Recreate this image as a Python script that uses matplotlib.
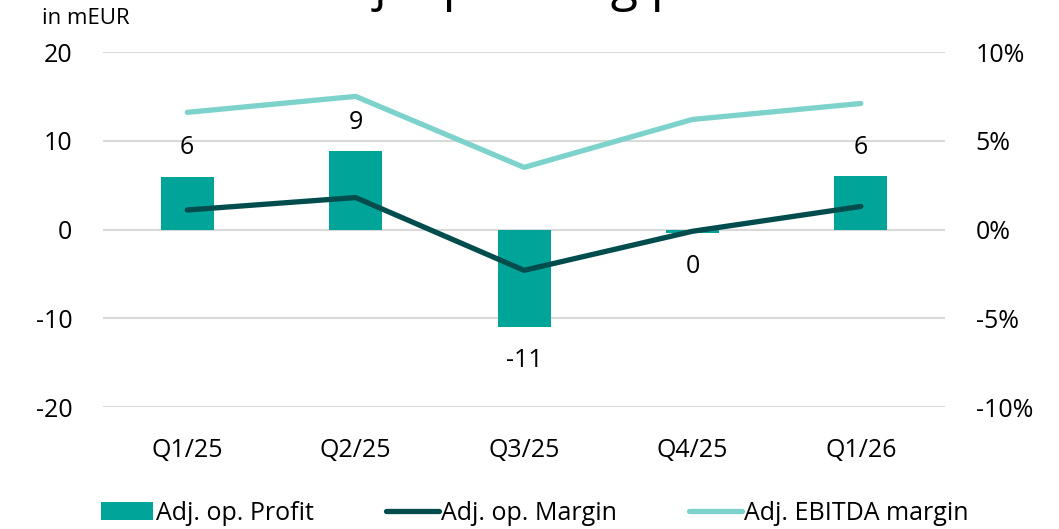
import matplotlib

matplotlib.use("Agg")
import matplotlib.pyplot as plt
import numpy as np

quarters = ["Q1/25", "Q2/25", "Q3/25", "Q4/25", "Q1/26"]
op_profit = [5.9, 8.8, -11.0, -0.4, 6.0]  # mEUR
op_margin = [1.1, 1.8, -2.3, -0.1, 1.3]  # %
ebitda_margin = [6.6, 7.5, 3.5, 6.2, 7.1]  # %
profit_labels = ["6", "9", "-11", "0", "6"]

BAR = "#00A499"
DARK = "#014D4E"
LIGHT = "#7DD3CB"
GRID = "#D9D9D9"
FS = 18

plt.rcParams["font.family"] = ["Open Sans", "DejaVu Sans"]
plt.rcParams["axes.unicode_minus"] = False

fig = plt.figure(figsize=(10.59, 5.29), dpi=100)
ax = fig.add_axes([0.0973, 0.2306, 0.7951, 0.6711])
ax2 = ax.twinx()

x = np.arange(len(quarters))
ax.bar(x, op_profit, width=0.315, color=BAR, zorder=2, label="Adj. op. Profit")
for xi, v, lab in zip(x, op_profit, profit_labels):
    off = 21 if v > 0 else -24
    ax.annotate(lab, (xi, v), xytext=(0, off), textcoords="offset points",
                ha="center", va="center", fontsize=FS)

ax2.plot(x, op_margin, color=DARK, lw=3.8, solid_capstyle="round", zorder=3,
         label="Adj. op. Margin")
ax2.plot(x, ebitda_margin, color=LIGHT, lw=3.8, solid_capstyle="round", zorder=3,
         label="Adj. EBITDA margin")

ax.set_xlim(-0.5, 4.5)
ax.set_ylim(-20, 20)
ax.set_yticks([-20, -10, 0, 10, 20])
ax2.set_ylim(-10, 10)
ax2.set_yticks([-10, -5, 0, 5, 10])
ax2.set_yticklabels([f"{t}%" for t in [-10, -5, 0, 5, 10]])
ax.set_xticks(x)
ax.set_xticklabels(quarters)
ax.yaxis.grid(True, color=GRID, lw=1.5, zorder=0)
ax.set_axisbelow(True)

for a in (ax, ax2):
    for s in a.spines.values():
        s.set_visible(False)
    a.tick_params(length=0, labelsize=FS)
ax.tick_params(axis="y", pad=22)
ax.tick_params(axis="x", pad=22)
ax2.tick_params(axis="y", pad=22)
ax2.set_zorder(ax.get_zorder() + 1)
ax2.patch.set_visible(False)

fig.text(0.04, 0.965, "in mEUR", fontsize=16, ha="left", va="center")
# title sits mostly above the canvas, only descenders show
fig.text(0.515, 1.0, "Adj. operating profit", fontsize=36, ha="center", va="baseline")

h1, l1 = ax.get_legend_handles_labels()
h2, l2 = ax2.get_legend_handles_labels()
fig.legend(h1 + h2, l1 + l2, loc="center", bbox_to_anchor=(0.505, 0.03), ncol=3,
           frameon=False, fontsize=FS, handlelength=2.1, handletextpad=0.1,
           columnspacing=2.9)

fig.savefig("out.png", dpi=100)
